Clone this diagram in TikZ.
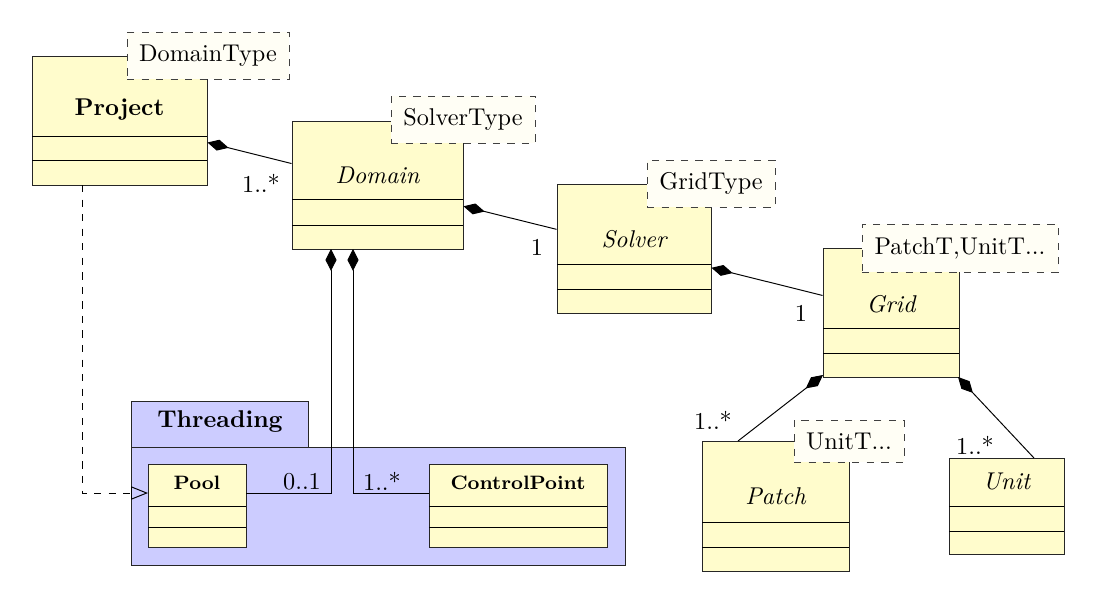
\documentclass[tikz,border=0pt]{standalone}
\usetikzlibrary{arrows.meta,fit}

\tikzset{
  umlclass/.style={draw=black!85, fill=yellow!20, inner sep=0pt},
  umltype/.style={draw=black!75, dashed, fill=yellow!4, inner sep=0pt},
  umlpackage/.style={draw=black!85, fill=blue!20},
  compo/.style={{Diamond[length=9pt,width=4.6pt]}-},
  realize/.style={dashed, -{Triangle[open,length=7pt,width=5.5pt]}},
  mult/.style={inner sep=1pt}
}

\begin{document}
\begin{tikzpicture}[x=0.0145cm, y=-0.0145cm]
    \useasboundingbox (0,0) rectangle (1101,593);
    % package
    \draw[umlpackage] (131,401) rectangle (308,447);
    \draw[umlpackage] (131,447) rectangle (625,565);
    \node[font=\bfseries] (threading) at (220,422) {Threading};
    % classes
    \node[umlclass, fit={(32,56) (207,185)}] (project) {};
    \node[font=\bfseries] (projectname) at (119.5,110) {Project};
    \draw (32,136) -- (207,136);
    \draw (32,160) -- (207,160);
    \node[umltype, fit={(127,32) (289,79)}] (domaintype) {};
    \node at (domaintype.center) {DomainType};

    \node[umlclass, fit={(292,121) (463,249)}] (domain) {};
    \node[font=\itshape] (domainname) at (377.5,175) {Domain};
    \draw (292,199) -- (463,199);
    \draw (292,225) -- (463,225);
    \node[umltype, fit={(391,96) (535,143)}] (solvertype) {};
    \node at (solvertype.center) {SolverType};

    \node[umlclass, fit={(557,184) (711,313)}] (solver) {};
    \node[font=\itshape] (solvername) at (634,239) {Solver};
    \draw (557,264) -- (711,264);
    \draw (557,289) -- (711,289);
    \node[umltype, fit={(647,160) (775,207)}] (gridtype) {};
    \node at (gridtype.center) {GridType};

    \node[umlclass, fit={(823,248) (959,377)}] (grid) {};
    \node[font=\itshape] (gridname) at (891,304) {Grid};
    \draw (823,328) -- (959,328);
    \draw (823,353) -- (959,353);
    \node[umltype, fit={(862,224) (1058,272)}] (gridparams) {};
    \node at (gridparams.center) {PatchT,UnitT...};

    \node[umlclass, fit={(702,441) (849,571)}] (patch) {};
    \node[font=\itshape] (patchname) at (775.5,496) {Patch};
    \draw (702,522) -- (849,522);
    \draw (702,547) -- (849,547);
    \node[umltype, fit={(794,420) (904,462)}] (patchparams) {};
    \node at (patchparams.center) {UnitT...};

    \node[umlclass, fit={(949,458) (1064,554)}] (unit) {};
    \node[font=\itshape] (unitname) at (1006.5,481) {Unit};
    \draw (949,506) -- (1064,506);
    \draw (949,531) -- (1064,531);

    \node[umlclass, fit={(148,464) (246,547)}] (pool) {};
    \node[font=\footnotesize\bfseries] (poolname) at (197,483) {Pool};
    \draw (148,506) -- (246,506);
    \draw (148,527) -- (246,527);

    \node[umlclass, fit={(429,464) (607,547)}] (controlpoint) {};
    \node[font=\footnotesize\bfseries] (controlpointname) at (518,483) {ControlPoint};
    \draw (429,506) -- (607,506);
    \draw (429,527) -- (607,527);

    % connectors
    \coordinate (projectfoot) at (82,185);
    \coordinate (poolin) at (148,493);
    \coordinate (poolout) at (246,493);
    \coordinate (cpin) at (429,493);
    \coordinate (domainpool) at (331,249);
    \coordinate (domaincp) at (353,249);
    \coordinate (gridpatch) at (823,375);
    \coordinate (patchtop) at (738,441);
    \coordinate (gridunit) at (958,377);
    \coordinate (unittop) at (1034,458);
    \draw[compo] (project) -- (domain);
    \draw[compo] (domain) -- (solver);
    \draw[compo] (solver) -- (grid);
    \draw[compo] (gridpatch) -- (patchtop);
    \draw[compo] (gridunit) -- (unittop);
    \draw[compo] (domainpool) |- (poolout);
    \draw[compo] (domaincp) |- (cpin);
    \draw[realize] (projectfoot) |- (poolin);

    % multiplicities
    \node[mult] at (261,183) {1..*};
    \node[mult] at (537,247) {1};
    \node[mult] at (801,313) {1};
    \node[mult] at (713,420) {1..*};
    \node[mult] at (975,445) {1..*};
    \node[mult] at (302,482) {0..1};
    \node[mult] at (382,481) {1..*};
\end{tikzpicture}
\end{document}
